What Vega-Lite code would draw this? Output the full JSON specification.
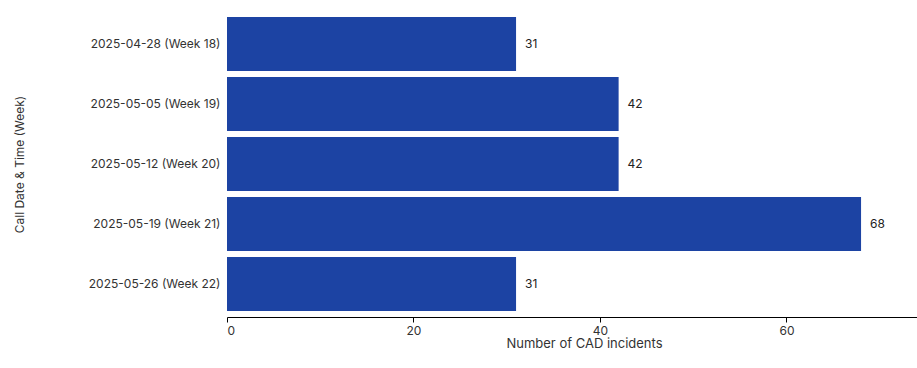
{
  "$schema": "https://vega.github.io/schema/vega-lite/v6.json",
  "autosize": "none",
  "padding": {"left": 227, "top": 17, "right": 0, "bottom": 57},
  "width": 690,
  "height": 294,
  "config": {
    "font": "Inter",
    "view": {"stroke": null},
    "axis": {"labelFont": "Inter", "titleFont": "Inter", "labelFontSize": 12, "titleFontSize": 12, "titleFontWeight": "normal", "labelColor": "#333333", "titleColor": "#333333", "grid": false}
  },
  "data": {
    "values": [
      {"week": "2025-04-28 (Week 18)", "count": 31},
      {"week": "2025-05-05 (Week 19)", "count": 42},
      {"week": "2025-05-12 (Week 20)", "count": 42},
      {"week": "2025-05-19 (Week 21)", "count": 68},
      {"week": "2025-05-26 (Week 22)", "count": 31}
    ]
  },
  "encoding": {
    "y": {
      "field": "week", "type": "nominal", "sort": null,
      "title": "Call Date & Time (Week)",
      "scale": {"paddingInner": 0.1, "paddingOuter": 0},
      "axis": {"domain": false, "ticks": false, "labelPadding": 7, "titleX": -201}
    },
    "x": {
      "field": "count", "type": "quantitative",
      "title": "Number of CAD incidents",
      "scale": {"domain": [0, 74], "nice": false},
      "axis": {"values": [0, 20, 40, 60], "offset": 6, "domainColor": "#000000", "tickColor": "#000000", "tickSize": 5, "labelFlush": true, "labelPadding": 3, "titlePadding": 1, "titleFontSize": 13, "titleX": 357}
    }
  },
  "layer": [
    {"mark": {"type": "bar", "color": "#1c43a3"}},
    {"mark": {"type": "text", "align": "left", "dx": 9, "fontSize": 12, "color": "#222222", "font": "Inter"}, "encoding": {"text": {"field": "count"}}}
  ]
}
